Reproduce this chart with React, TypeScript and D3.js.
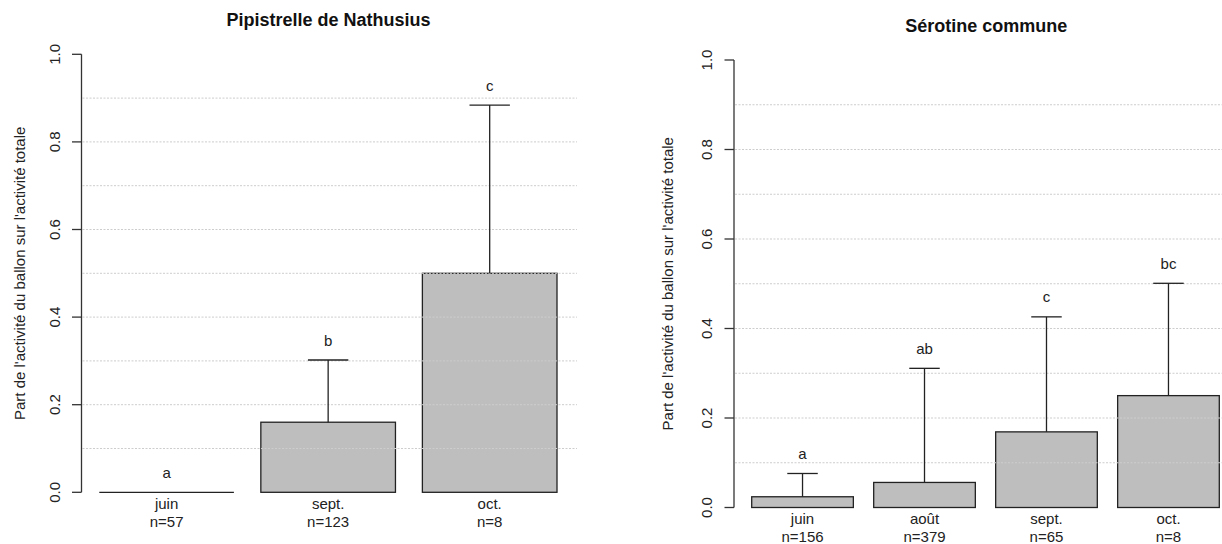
import React from "react";
import * as d3 from "d3";

// ---- Data: Pipistrelle de Nathusius ----
const nathCategories = ["juin", "sept.", "oct."];
const nathCounts = ["n=57", "n=123", "n=8"];
const nathMeans = [0, 0.16, 0.5];
const nathUpper = [0, 0.302, 0.884];
const nathLetters = ["a", "b", "c"];

// ---- Data: Sérotine commune ----
const seroCategories = ["juin", "août", "sept.", "oct."];
const seroCounts = ["n=156", "n=379", "n=65", "n=8"];
const seroMeans = [0.024, 0.056, 0.169, 0.25];
const seroUpper = [0.076, 0.311, 0.426, 0.501];
const seroLetters = ["a", "ab", "c", "bc"];

// ---- Axis ticks / grid ----
const yTicks = [0, 0.2, 0.4, 0.6, 0.8, 1.0];
const gridValues = [0.1, 0.2, 0.3, 0.4, 0.5, 0.6, 0.7, 0.8, 0.9];

const yTitle = "Part de l'activité du ballon sur l'activité totale";
const FONT = "'Liberation Sans', Arial, Helvetica, sans-serif";
const INK = "#222";

type PanelProps = {
  title: string;
  categories: string[];
  counts: string[];
  means: number[];
  upper: number[];
  letters: string[];
  axisX: number;
  plotRight: number;
  gridRight: number;
  barStart: number;
  barEnd: number;
  yBottom: number;
  yTop: number;
  titleY: number;
  yTitleX: number;
};

function Panel(p: PanelProps) {
  const x = d3
    .scaleBand<string>()
    .domain(p.categories)
    .range([p.barStart, p.barEnd])
    .paddingInner(1 / 6)
    .paddingOuter(0);
  const y = d3.scaleLinear().domain([0, 1]).range([p.yBottom, p.yTop]);
  const bw = x.bandwidth();
  const capW = bw * 0.3;
  const plotCenter = (p.axisX + p.plotRight) / 2;
  const yMid = (y(0) + y(1)) / 2;

  return (
    <g>
      <text
        x={plotCenter}
        y={p.titleY}
        textAnchor="middle"
        dominantBaseline="central"
        fontFamily={FONT}
        fontWeight="bold"
        fontSize={18}
        fill="#111"
      >
        {p.title}
      </text>

      {/* bars */}
      {p.categories.map((c, i) => {
        const x0 = x(c)!;
        const top = y(p.means[i]);
        const h = y(0) - top;
        return h > 0.5 ? (
          <rect
            key={c}
            x={x0}
            y={top}
            width={bw}
            height={h}
            fill="#bebebe"
            stroke={INK}
            strokeWidth={1.3}
          />
        ) : (
          <line
            key={c}
            x1={x0}
            x2={x0 + bw}
            y1={y(0)}
            y2={y(0)}
            stroke={INK}
            strokeWidth={1.3}
          />
        );
      })}

      {/* grid */}
      {gridValues.map((v) => (
        <line
          key={v}
          x1={p.axisX + 1}
          x2={p.gridRight}
          y1={y(v)}
          y2={y(v)}
          stroke="#cdcdcd"
          strokeWidth={1}
          strokeDasharray="2 1.5"
        />
      ))}

      {/* error bars */}
      {p.categories.map((c, i) => {
        const cx = x(c)! + bw / 2;
        if (p.upper[i] <= p.means[i]) return null;
        return (
          <g key={c}>
            <line
              x1={cx}
              x2={cx}
              y1={y(p.means[i])}
              y2={y(p.upper[i])}
              stroke={INK}
              strokeWidth={1.3}
            />
            <line
              x1={cx - capW / 2}
              x2={cx + capW / 2}
              y1={y(p.upper[i])}
              y2={y(p.upper[i])}
              stroke={INK}
              strokeWidth={1.3}
            />
          </g>
        );
      })}

      {/* significance letters */}
      {p.categories.map((c, i) => (
        <text
          key={c}
          x={x(c)! + bw / 2}
          y={y(p.upper[i]) - 20}
          textAnchor="middle"
          dominantBaseline="central"
          fontFamily={FONT}
          fontSize={15}
          fill={INK}
        >
          {p.letters[i]}
        </text>
      ))}

      {/* category labels */}
      {p.categories.map((c, i) => (
        <g key={c}>
          <text
            x={x(c)! + bw / 2}
            y={y(0) + 11}
            textAnchor="middle"
            dominantBaseline="central"
            fontFamily={FONT}
            fontSize={15}
            fill={INK}
          >
            {c}
          </text>
          <text
            x={x(c)! + bw / 2}
            y={y(0) + 29}
            textAnchor="middle"
            dominantBaseline="central"
            fontFamily={FONT}
            fontSize={15}
            fill={INK}
          >
            {p.counts[i]}
          </text>
        </g>
      ))}

      {/* y axis */}
      <line
        x1={p.axisX}
        x2={p.axisX}
        y1={y(0)}
        y2={y(1)}
        stroke="#333"
        strokeWidth={1.3}
      />
      {yTicks.map((t) => (
        <g key={t}>
          <line
            x1={p.axisX - 9.5}
            x2={p.axisX}
            y1={y(t)}
            y2={y(t)}
            stroke="#333"
            strokeWidth={1.3}
          />
          <text
            transform={`translate(${p.axisX - 27.5},${y(t)}) rotate(-90)`}
            textAnchor="middle"
            dominantBaseline="central"
            fontFamily={FONT}
            fontSize={15}
            fill={INK}
          >
            {d3.format(".1f")(t)}
          </text>
        </g>
      ))}
      <text
        transform={`translate(${p.yTitleX},${yMid}) rotate(-90)`}
        textAnchor="middle"
        dominantBaseline="central"
        fontFamily={FONT}
        fontSize={15}
        fill={INK}
      >
        {yTitle}
      </text>
    </g>
  );
}

export default function App() {
  return (
    <div style={{ position: "absolute", left: 0, top: 0 }}>
      <svg width={1222} height={544} style={{ display: "block", background: "#fff" }}>
        <rect width={1222} height={544} fill="#fff" />
        <Panel
          title="Pipistrelle de Nathusius"
          categories={nathCategories}
          counts={nathCounts}
          means={nathMeans}
          upper={nathUpper}
          letters={nathLetters}
          axisX={81.5}
          plotRight={575.4}
          gridRight={577}
          barStart={99.3}
          barEnd={557}
          yBottom={492.3}
          yTop={54.3}
          titleY={20}
          yTitleX={19.5}
        />
        <Panel
          title="Sérotine commune"
          categories={seroCategories}
          counts={seroCounts}
          means={seroMeans}
          upper={seroUpper}
          letters={seroLetters}
          axisX={734}
          plotRight={1238.7}
          gridRight={1222}
          barStart={751.7}
          barEnd={1219.3}
          yBottom={507.5}
          yTop={60}
          titleY={26}
          yTitleX={667}
        />
      </svg>
    </div>
  );
}
